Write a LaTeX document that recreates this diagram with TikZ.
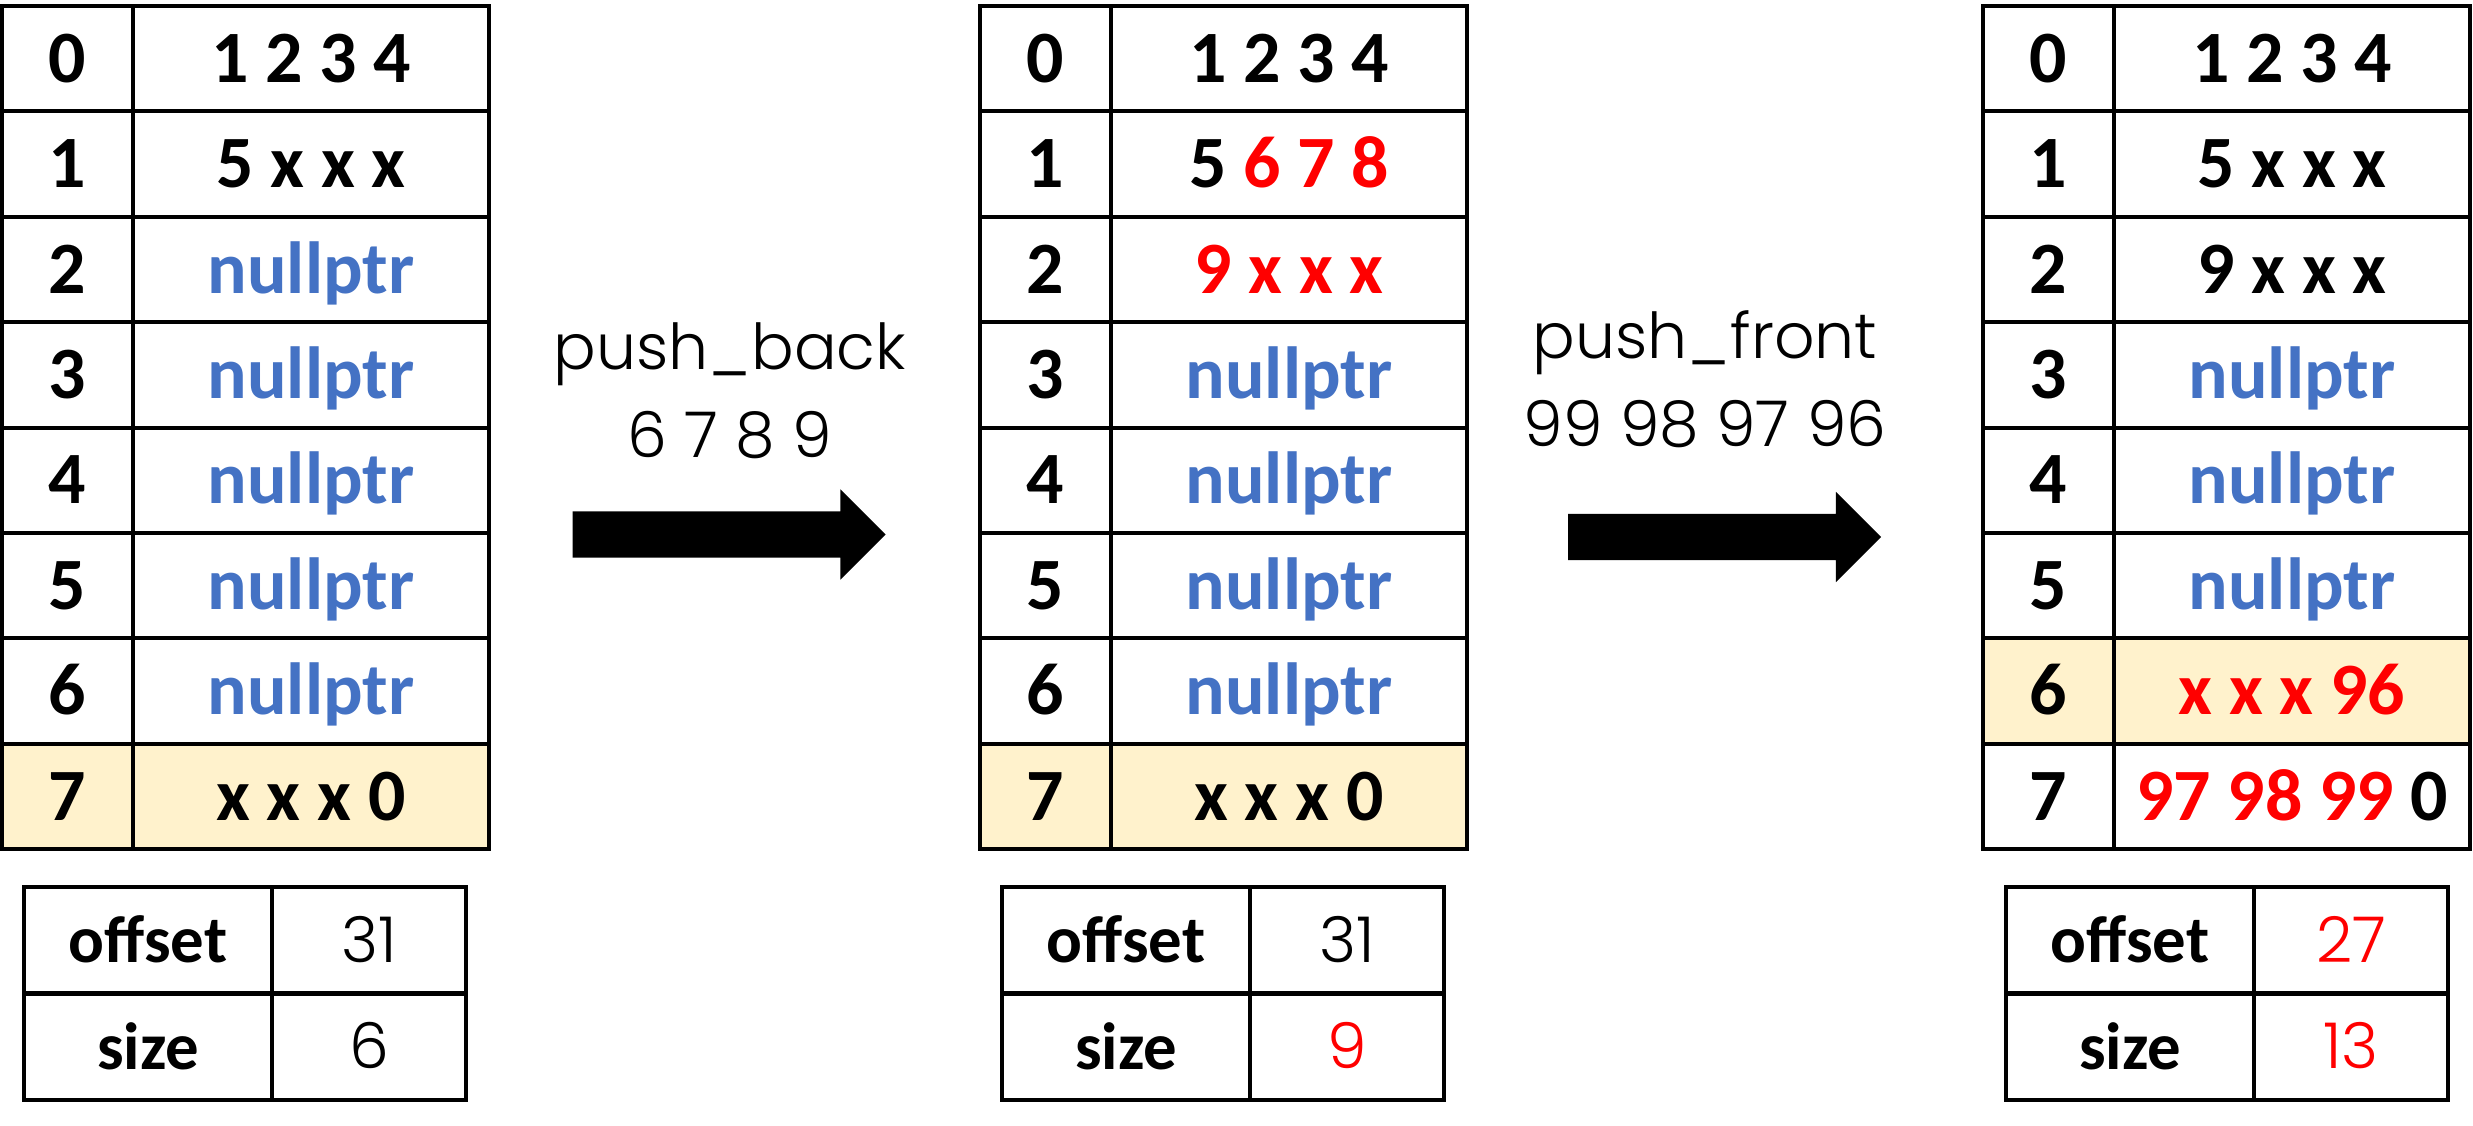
\documentclass[tikz,border=0pt]{standalone}
\usepackage{fontspec}
\setmainfont{Carlito}
\newfontfamily\thinfont{Poppins}[UprightFont=* Light]
\usetikzlibrary{shapes.arrows}
\definecolor{nullblue}{HTML}{4472C4}
\definecolor{hlfill}{HTML}{FFF2CC}
\definecolor{newred}{HTML}{FF0000}
\newcommand{\nul}{\textcolor{nullblue}{nullptr}}
\newcommand{\nw}[1]{\textcolor{newred}{#1}}

\begin{document}
\begin{tikzpicture}[
    cell/.style={draw, line width=1.15pt, outer sep=0pt, inner sep=0pt, anchor=north west,
      minimum height=1.054cm, text height=0.47cm, text depth=0pt,
      font=\fontsize{21}{25}\selectfont\bfseries},
    idxcell/.style={cell, minimum width=1.31cm},
    valcell/.style={cell, minimum width=3.56cm},
    metakey/.style={cell, minimum width=2.48cm, minimum height=1.065cm,
      text height=0.45cm, font=\fontsize{19}{22}\selectfont\bfseries},
    metaval/.style={cell, minimum width=1.94cm, minimum height=1.065cm,
      text height=0.44cm, font=\fontsize{18}{22}\thinfont},
    oplabel/.style={anchor=base, font=\fontsize{18}{22}\thinfont},
    blockarrow/.style={single arrow, fill=black, inner xsep=0pt, inner ysep=0.225cm,
      minimum height=3.13cm, single arrow head extend=0.22cm}
  ]
    \useasboundingbox (0,0) rectangle (24.73,-11.25);

    \foreach \i/\v/\f in {0/{1 2 3 4}/white, 1/{5 x x x}/white, 2/\nul/white, 3/\nul/white,
        4/\nul/white, 5/\nul/white, 6/\nul/white, 7/{x x x 0}/hlfill} {
        \node[idxcell, fill=\f] (a\i) at (0.02,{-0.06-1.054*\i}) {\i};
        \node[valcell, fill=\f] (av\i) at (a\i.north east) {\v};
    }
    \node[metakey] (aoff) at (0.24,-8.87) {offset};
    \node[metaval] (aoffv) at (aoff.north east) {31};
    \node[metakey] (asize) at (aoff.south west) {size};
    \node[metaval] (asizev) at (asize.north east) {6};

    \node[oplabel] (pbName) at (7.30,-3.69) {push\_back};
    \node[oplabel] (pbVals) at (7.30,-4.57) {6 7 8 9};
    \node[blockarrow] (pbArrow) at (7.175,-5.345) {};

    \foreach \i/\v/\f in {0/{1 2 3 4}/white, 1/{5 \nw{6 7 8}}/white, 2/{\nw{9 x x x}}/white,
        3/\nul/white, 4/\nul/white, 5/\nul/white, 6/\nul/white, 7/{x x x 0}/hlfill} {
        \node[idxcell, fill=\f] (b\i) at (9.80,{-0.06-1.054*\i}) {\i};
        \node[valcell, fill=\f] (bv\i) at (b\i.north east) {\v};
    }
    \node[metakey] (boff) at (10.02,-8.87) {offset};
    \node[metaval] (boffv) at (boff.north east) {31};
    \node[metakey] (bsize) at (boff.south west) {size};
    \node[metaval] (bsizev) at (bsize.north east) {\nw{9}};

    \node[oplabel] (pfName) at (17.05,-3.58) {push\_front};
    \node[oplabel] (pfVals) at (17.05,-4.46) {99 98 97 96};
    \node[blockarrow] (pfArrow) at (17.13,-5.37) {};

    \foreach \i/\v/\f in {0/{1 2 3 4}/white, 1/{5 x x x}/white, 2/{9 x x x}/white,
        3/\nul/white, 4/\nul/white, 5/\nul/white, 6/{\nw{x x x 96}}/hlfill,
        7/{\nw{97 98 99} 0}/white} {
        \node[idxcell, fill=\f] (c\i) at (19.83,{-0.06-1.054*\i}) {\i};
        \node[valcell, fill=\f] (cv\i) at (c\i.north east) {\v};
    }
    \node[metakey] (coff) at (20.06,-8.87) {offset};
    \node[metaval] (coffv) at (coff.north east) {\nw{27}};
    \node[metakey] (csize) at (coff.south west) {size};
    \node[metaval] (csizev) at (csize.north east) {\nw{13}};
\end{tikzpicture}
\end{document}
